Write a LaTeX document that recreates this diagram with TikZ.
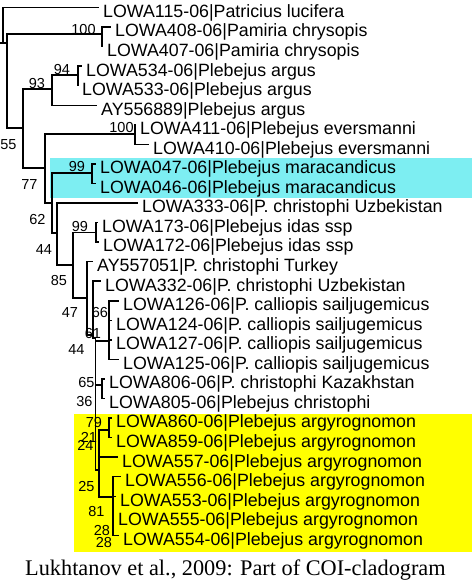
\documentclass[tikz,border=0pt]{standalone}
\usepackage{fontspec}
\setmainfont{Liberation Sans}
\newfontfamily\capfont{Liberation Serif}
\definecolor{hlcyan}{RGB}{125,238,242}
\definecolor{hlyellow}{RGB}{255,255,0}
\begin{document}
\begin{tikzpicture}[x=1pt,y=-1pt,
  branch/.style={draw=black,line width=1.5pt},
  leaf/.style={anchor=west,inner xsep=4pt,inner ysep=0pt,text height=19.7pt,text depth=0pt,font=\fontsize{17.8}{20}\selectfont},
  supp/.style={inner sep=0pt,font=\fontsize{14.5}{16}\selectfont}]
\useasboundingbox (0,0) rectangle (472,587);
\fill[white] (0,0) rectangle (472,587);
\fill[hlcyan] (50,158) rectangle (472,198);
\fill[hlyellow] (74,414) rectangle (472,552);

% leaves
\node[leaf] (l1) at (99,7.5) {LOWA115-06|Patricius lucifera};
\node[leaf] (l2) at (111,27.05) {LOWA408-06|Pamiria chrysopis};
\node[leaf] (l3) at (103,46.6) {LOWA407-06|Pamiria chrysopis};
\node[leaf] (l4) at (82,66.15) {LOWA534-06|Plebejus argus};
\node[leaf] (l5) at (78,85.7) {LOWA533-06|Plebejus argus};
\node[leaf] (l6) at (97,105.25) {AY556889|Plebejus argus};
\node[leaf] (l7) at (136,124.8) {LOWA411-06|Plebejus eversmanni};
\node[leaf] (l8) at (149,144.35) {LOWA410-06|Plebejus eversmanni};
\node[leaf] (l9) at (96,163.9) {LOWA047-06|Plebejus maracandicus};
\node[leaf] (l10) at (96,183.45) {LOWA046-06|Plebejus maracandicus};
\node[leaf] (l11) at (138,203) {LOWA333-06|P. christophi Uzbekistan};
\node[leaf] (l12) at (98,222.55) {LOWA173-06|Plebejus idas ssp};
\node[leaf] (l13) at (99,242.1) {LOWA172-06|Plebejus idas ssp};
\node[leaf] (l14) at (93,261.65) {AY557051|P. christophi Turkey};
\node[leaf] (l15) at (101,281.2) {LOWA332-06|P. christophi Uzbekistan};
\node[leaf] (l16) at (119,300.75) {LOWA126-06|P. calliopis sailjugemicus};
\node[leaf] (l17) at (112,320.3) {LOWA124-06|P. calliopis sailjugemicus};
\node[leaf] (l18) at (112,339.85) {LOWA127-06|P. calliopis sailjugemicus};
\node[leaf] (l19) at (119,359.4) {LOWA125-06|P. calliopis sailjugemicus};
\node[leaf] (l20) at (105,378.95) {LOWA806-06|P. christophi Kazakhstan};
\node[leaf] (l21) at (105,398.5) {LOWA805-06|Plebejus christophi};
\node[leaf] (l22) at (112,418.05) {LOWA860-06|Plebejus argyrognomon};
\node[leaf] (l23) at (112,437.6) {LOWA859-06|Plebejus argyrognomon};
\node[leaf] (l24) at (118,457.15) {LOWA557-06|Plebejus argyrognomon};
\node[leaf] (l25) at (121,476.7) {LOWA556-06|Plebejus argyrognomon};
\node[leaf] (l26) at (116,496.25) {LOWA553-06|Plebejus argyrognomon};
\node[leaf] (l27) at (114,515.8) {LOWA555-06|Plebejus argyrognomon};
\node[leaf] (l28) at (119,535.35) {LOWA554-06|Plebejus argyrognomon};

% internal nodes
\coordinate (R0) at (0,43);
\coordinate (R) at (3,43);
\coordinate (N1) at (7,43);
\coordinate (P) at (102,34);
\coordinate (N2) at (23,128);
\coordinate (C93) at (52,89);
\coordinate (C94) at (78,75);
\coordinate (N3) at (45,168);
\coordinate (E) at (135,134);
\coordinate (N4) at (52,203);
\coordinate (M) at (92,173);
\coordinate (N5) at (57,233);
\coordinate (N6) at (73,265);
\coordinate (I) at (96,232.3);
\coordinate (N7) at (87,298);
\coordinate (N8) at (93,335);
\coordinate (N9) at (95.5,338);
\coordinate (CA) at (109,341);
\coordinate (D) at (102,385);
\coordinate (AB) at (99,470);
\coordinate (C86) at (109,430);
\coordinate (C) at (113,497);

% branches
\draw[branch] (R0) -- (R);
\draw[branch] (R) |- (l1.west);
\draw[branch] (R) |- (N1);
\draw[branch] (N1) |- (P);
\draw[branch] (N1) |- (N2);
\draw[branch] (P) |- (l2.west);
\draw[branch] (P) |- (l3.west);
\draw[branch] (N2) |- (C93);
\draw[branch] (N2) |- (N3);
\draw[branch] (C93) |- (C94);
\draw[branch] (C93) |- (l6.west);
\draw[branch] (C94) |- (l4.west);
\draw[branch] (C94) |- (l5.west);
\draw[branch] (N3) |- (E);
\draw[branch] (N3) |- (N4);
\draw[branch] (E) |- (l7.west);
\draw[branch] (E) |- (l8.west);
\draw[branch] (N4) |- (M);
\draw[branch] (N4) |- (N5);
\draw[branch] (M) |- (l9.west);
\draw[branch] (M) |- (l10.west);
\draw[branch] (N5) |- (l11.west);
\draw[branch] (N5) |- (N6);
\draw[branch] (N6) |- (I);
\draw[branch] (N6) |- (N7);
\draw[branch] (I) |- (l12.west);
\draw[branch] (I) |- (l13.west);
\draw[branch] (N7) |- (l14.west);
\draw[branch] (N7) |- (N8);
\draw[branch] (N8) |- (l15.west);
\draw[branch] (N8) |- (N9);
\draw[branch] (N9) |- (CA);
\draw[branch] (N9) |- (D);
\draw[branch] (N9) |- (AB);
\draw[branch] (CA) |- (l16.west);
\draw[branch] (CA) |- (l17.west);
\draw[branch] (CA) |- (l18.west);
\draw[branch] (CA) |- (l19.west);
\draw[branch] (D) |- (l20.west);
\draw[branch] (D) |- (l21.west);
\draw[branch] (AB) |- (C86);
\draw[branch] (AB) |- (l24.west);
\draw[branch] (AB) |- (C);
\draw[branch] (C86) |- (l22.west);
\draw[branch] (C86) |- (l23.west);
\draw[branch] (C) |- (l25.west);
\draw[branch] (C) |- (l26.west);
\draw[branch] (C) |- (l27.west);
\draw[branch] (C) |- (l28.west);

% support values
\node[supp] (s1) at (83.5,29.5) {100};
\node[supp] (s2) at (62,70) {94};
\node[supp] (s3) at (37,84) {93};
\node[supp] (s4) at (121.5,127.5) {100};
\node[supp] (s5) at (8.5,145) {55};
\node[supp] (s6) at (77,167) {99};
\node[supp] (s7) at (29.5,185) {77};
\node[supp] (s8) at (37.5,220) {62};
\node[supp] (s9) at (80,227) {99};
\node[supp] (s10) at (44,250) {44};
\node[supp] (s11) at (59,281) {85};
\node[supp] (s12) at (70,313) {47};
\node[supp] (s13) at (100,313) {66};
\node[supp] (s14) at (93,334) {61};
\node[supp] (s15) at (76.5,350) {44};
\node[supp] (s16) at (86.5,383) {65};
\node[supp] (s17) at (84.5,402) {36};
\node[supp] (s18) at (94,423) {79};
\node[supp] (s19) at (89,437) {21};
\node[supp] (s20) at (85.5,445) {24};
\node[supp] (s21) at (86.5,487) {25};
\node[supp] (s22) at (96.5,512) {81};
\node[supp] (s23) at (102,531) {28};
\node[supp] (s24) at (104,543) {28};

% caption
\node[anchor=base west,inner sep=0pt,font=\capfont\fontsize{22.3}{24}\selectfont] (cap) at (25,575) {Lukhtanov et al., 2009: Part of COI-cladogram};
\end{tikzpicture}
\end{document}
